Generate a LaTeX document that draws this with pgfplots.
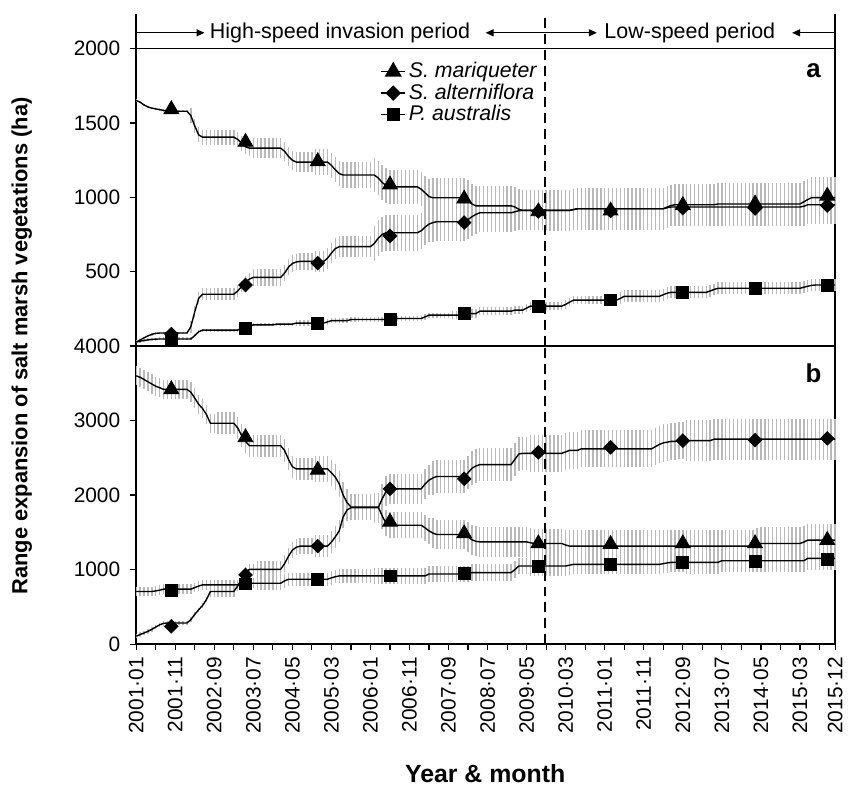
\documentclass[border=0pt]{standalone}
\usepackage{fontspec}
\setmainfont{Liberation Sans}
\usepackage{pgfplots}
\usepackage{pgfplotstable}
\pgfplotsset{compat=1.18}
\usetikzlibrary{arrows.meta}

% panel a: month index (0 = 2001-01), value and error for each species
\pgfplotstableread{
m ma mae al ale pa pae
0 1652 8 27 8 27 10
1 1640 8 40 8 32 10
2 1622 8 55 8 37 10
3 1608 8 68 8 41 10
4 1600 8 78 8 44 10
5 1595 8 85 8 46 10
6 1590 8 87 8 47 10
7 1585 8 87 8 47 10
8 1581 8 87 8 47 10
9 1579 8 87 8 47 10
10 1579 8 87 8 47 10
11 1579 8 87 8 47 10
12 1579 8 87 8 47 10
13 1579 8 87 8 47 10
14 1550 50 130 40 47 10
15 1480 50 230 40 70 10
16 1420 50 320 40 95 10
17 1405 50 348 40 107 10
18 1405 50 348 40 107 10
19 1405 50 348 40 107 10
20 1405 50 348 40 107 10
21 1405 50 348 40 107 10
22 1405 50 348 40 107 10
23 1405 50 348 40 107 10
24 1405 50 348 40 107 10
25 1405 50 348 40 107 10
26 1390 50 370 40 107 10
27 1365 50 400 40 120 10
28 1340 50 430 40 130 10
29 1331 50 450 40 136 10
30 1331 65 461 55 142 10
31 1331 65 461 55 142 10
32 1331 65 461 55 142 10
33 1331 65 461 55 142 10
34 1331 65 461 55 142 10
35 1331 65 461 55 142 10
36 1331 65 461 55 147 10
37 1331 65 461 55 147 10
38 1310 65 490 55 147 10
39 1275 65 530 55 147 10
40 1250 65 555 55 147 10
41 1237 65 565 55 154 18
42 1237 65 569 55 154 18
43 1237 65 569 55 154 18
44 1237 65 569 55 154 18
45 1237 65 569 55 154 18
46 1237 85 569 70 154 18
47 1237 85 569 70 154 18
48 1237 85 569 70 154 18
49 1237 85 590 70 162 18
50 1215 85 625 70 170 18
51 1185 85 655 70 170 18
52 1160 85 668 70 170 18
53 1150 85 668 70 170 18
54 1150 85 668 70 170 18
55 1150 85 668 70 178 18
56 1150 85 668 70 178 18
57 1150 85 668 70 178 18
58 1150 85 668 70 178 18
59 1150 85 668 70 178 18
60 1150 85 668 70 178 18
61 1150 115 690 120 178 18
62 1130 115 725 120 178 18
63 1100 115 750 120 178 18
64 1080 115 762 120 178 18
65 1070 115 762 120 185 18
66 1070 115 762 120 185 18
67 1070 115 762 120 185 18
68 1070 115 762 120 185 18
69 1070 115 762 120 185 18
70 1070 115 762 120 185 18
71 1070 115 762 120 185 18
72 1070 115 762 120 185 18
73 1055 115 775 120 185 18
74 1030 115 800 120 196 18
75 1005 115 820 120 207 18
76 997 135 830 130 207 18
77 997 135 836 130 207 18
78 997 135 836 130 207 18
79 997 135 836 130 207 18
80 997 135 836 130 207 18
81 997 135 836 130 207 28
82 997 135 836 130 207 28
83 997 135 836 130 207 28
84 997 135 836 130 218 28
85 980 135 850 130 218 28
86 955 135 870 130 218 28
87 943 135 885 130 218 28
88 943 135 896 130 234 28
89 943 135 896 130 234 28
90 943 135 896 130 234 28
91 943 135 896 130 234 28
92 943 135 896 130 234 28
93 943 135 896 130 234 28
94 943 135 896 130 234 28
95 943 135 896 130 234 28
96 943 135 896 130 234 28
97 935 135 903 130 241 28
98 920 135 910 130 241 28
99 912 135 912 130 241 28
100 912 135 912 130 255 28
101 912 135 912 130 268 28
102 912 135 912 130 268 28
103 912 135 912 130 268 28
104 912 135 912 130 268 28
105 912 135 912 130 268 28
106 912 140 912 130 268 28
107 912 140 912 130 268 28
108 912 140 912 130 268 28
109 912 140 912 130 268 28
110 912 140 912 130 280 28
111 912 140 912 130 295 28
112 918 140 918 130 308 28
113 923 140 923 130 308 28
114 923 140 923 130 308 28
115 923 140 923 130 308 28
116 923 140 923 130 308 28
117 923 140 923 130 308 28
118 923 140 923 130 308 28
119 923 140 923 130 308 28
120 923 140 923 130 308 28
121 923 140 923 130 308 40
122 923 140 923 130 308 40
123 923 140 923 130 308 40
124 923 140 923 130 320 40
125 923 140 923 130 334 40
126 923 140 923 130 334 40
127 923 140 923 130 334 40
128 923 140 923 130 334 40
129 923 140 923 130 334 40
130 923 140 923 130 334 40
131 923 140 923 130 334 40
132 923 140 923 130 334 40
133 923 140 923 130 334 40
134 923 140 923 130 334 40
135 923 140 923 130 345 40
136 935 140 930 130 355 40
137 945 140 935 130 361 40
138 950 140 935 130 361 40
139 950 140 935 130 361 40
140 950 140 935 130 361 40
141 950 140 935 130 361 40
142 950 140 935 130 361 40
143 950 140 935 130 361 40
144 950 140 935 130 361 40
145 950 140 935 130 361 40
146 950 140 935 130 361 40
147 950 140 935 130 370 40
148 950 140 935 130 380 40
149 955 140 935 130 388 40
150 955 140 935 130 388 40
151 955 140 935 130 388 40
152 955 140 935 130 388 40
153 955 140 935 130 388 40
154 955 140 935 130 388 40
155 955 140 935 130 388 40
156 955 140 935 130 388 40
157 955 140 935 130 388 40
158 955 140 935 130 388 40
159 955 140 935 130 388 40
160 955 140 935 130 388 40
161 955 140 935 130 388 40
162 955 140 935 130 388 40
163 955 140 935 130 388 40
164 955 140 935 130 388 40
165 955 140 935 130 388 40
166 955 140 935 130 388 40
167 955 140 935 130 388 40
168 955 140 935 130 388 40
169 955 140 935 130 388 40
170 955 140 935 130 388 40
171 970 140 940 130 395 40
172 985 140 950 130 402 40
173 998 140 950 130 408 40
174 998 140 950 130 410 40
175 998 140 950 130 410 40
176 998 140 950 130 410 40
177 998 140 950 130 410 40
178 998 140 950 130 410 40
179 998 140 950 130 410 40
}\dataA

% panel b
\pgfplotstableread{
m mb mbe alb albe pb pbe
0 3600 130 107 30 707 65
1 3580 130 130 30 707 65
2 3550 130 150 30 707 65
3 3520 130 173 30 707 65
4 3490 130 200 30 707 65
5 3460 130 230 30 715 65
6 3440 130 260 30 725 65
7 3418 130 280 30 738 65
8 3418 130 284 30 738 65
9 3418 130 284 30 738 65
10 3418 130 284 30 738 65
11 3418 130 284 30 738 65
12 3418 130 284 30 738 65
13 3418 130 284 30 738 65
14 3380 130 330 30 738 65
15 3300 130 400 30 760 65
16 3218 130 462 30 780 65
17 3160 130 520 30 796 65
18 3080 130 600 30 796 65
19 2964 130 707 70 796 65
20 2964 130 707 70 796 65
21 2964 150 707 70 796 65
22 2964 150 707 70 796 65
23 2964 150 707 70 796 65
24 2964 150 707 70 796 65
25 2964 150 707 70 796 65
26 2900 150 780 70 796 65
27 2800 150 880 70 796 65
28 2720 150 960 70 818 65
29 2662 150 1004 70 818 65
30 2662 150 1004 70 818 65
31 2662 150 1004 110 818 90
32 2662 150 1004 110 818 90
33 2662 150 1004 110 818 90
34 2662 150 1004 110 818 90
35 2662 150 1004 110 818 90
36 2662 150 1004 110 818 90
37 2662 150 1004 110 818 90
38 2600 150 1080 110 849 90
39 2480 150 1180 110 871 90
40 2380 150 1262 110 871 90
41 2351 150 1300 110 871 90
42 2351 150 1316 110 871 90
43 2351 150 1316 110 871 90
44 2351 150 1316 110 871 90
45 2351 150 1316 110 871 90
46 2351 175 1316 150 871 90
47 2351 175 1316 150 871 90
48 2351 175 1316 150 871 90
49 2351 175 1316 150 871 90
50 2300 175 1370 150 890 90
51 2240 175 1440 150 905 90
52 2150 175 1520 150 916 90
53 2000 175 1707 150 916 90
54 1900 175 1800 150 916 90
55 1840 175 1831 150 916 90
56 1840 175 1831 150 916 90
57 1840 175 1831 150 916 90
58 1840 175 1831 150 916 90
59 1840 175 1831 150 916 90
60 1840 175 1831 150 916 90
61 1840 175 1831 200 916 110
62 1840 175 1831 200 916 110
63 1720 175 1950 200 916 110
64 1620 175 2050 200 916 110
65 1596 175 2084 200 916 110
66 1596 175 2084 200 916 110
67 1596 175 2084 200 916 110
68 1596 175 2084 200 916 110
69 1596 175 2084 200 916 110
70 1596 175 2084 200 916 110
71 1596 175 2084 200 916 110
72 1596 175 2084 200 916 110
73 1596 175 2084 200 916 110
74 1560 175 2150 200 916 110
75 1520 175 2200 200 942 110
76 1490 200 2230 225 942 110
77 1471 200 2249 225 942 110
78 1471 200 2249 225 942 110
79 1471 200 2249 225 942 110
80 1471 200 2249 225 942 110
81 1471 200 2249 225 942 110
82 1471 200 2249 225 942 110
83 1471 200 2249 225 942 110
84 1471 200 2249 225 942 110
85 1440 200 2300 225 942 110
86 1400 200 2360 225 960 110
87 1380 200 2390 225 960 110
88 1373 200 2409 225 960 110
89 1373 200 2409 225 960 110
90 1373 200 2409 225 960 110
91 1373 200 2409 225 960 110
92 1373 200 2409 225 960 110
93 1373 200 2409 225 960 110
94 1373 200 2409 225 960 110
95 1373 200 2409 225 960 110
96 1373 200 2409 225 960 110
97 1373 200 2480 225 1000 110
98 1373 200 2551 225 1049 110
99 1373 200 2560 225 1049 110
100 1373 200 2560 225 1049 110
101 1360 200 2560 250 1049 130
102 1351 200 2560 250 1049 130
103 1351 200 2560 250 1049 130
104 1351 200 2560 250 1049 130
105 1351 200 2560 250 1049 130
106 1351 200 2560 250 1049 130
107 1351 200 2560 250 1049 130
108 1351 200 2560 250 1049 130
109 1351 200 2560 250 1049 130
110 1330 200 2580 250 1049 130
111 1316 220 2600 250 1060 130
112 1316 220 2600 250 1071 130
113 1316 220 2600 250 1071 130
114 1316 220 2620 250 1071 130
115 1316 220 2620 250 1071 130
116 1316 220 2620 250 1071 130
117 1316 220 2620 250 1071 130
118 1316 220 2620 250 1071 130
119 1316 220 2620 250 1071 130
120 1316 220 2620 250 1071 130
121 1316 220 2620 250 1071 130
122 1316 220 2620 250 1071 130
123 1316 220 2620 250 1071 130
124 1316 220 2620 250 1071 130
125 1316 220 2620 250 1071 130
126 1316 220 2620 250 1071 130
127 1316 220 2620 250 1071 130
128 1316 220 2620 250 1071 130
129 1316 220 2620 250 1071 130
130 1316 220 2620 250 1071 130
131 1316 220 2620 250 1071 130
132 1316 220 2620 250 1071 130
133 1316 220 2650 250 1071 130
134 1316 220 2680 250 1071 130
135 1316 220 2700 250 1080 130
136 1316 220 2710 250 1090 130
137 1316 220 2720 250 1098 130
138 1316 220 2720 250 1098 130
139 1316 220 2730 250 1098 130
140 1316 220 2730 250 1098 130
141 1316 220 2730 275 1098 150
142 1316 220 2730 275 1098 150
143 1316 220 2730 275 1098 150
144 1316 220 2730 275 1098 150
145 1316 220 2730 275 1098 150
146 1316 220 2730 275 1098 150
147 1316 220 2730 275 1098 150
148 1316 220 2750 275 1098 150
149 1316 220 2750 275 1098 150
150 1316 220 2750 275 1120 150
151 1316 220 2750 275 1120 150
152 1316 220 2750 275 1120 150
153 1316 220 2750 275 1120 150
154 1316 220 2750 275 1120 150
155 1316 220 2750 275 1120 150
156 1316 220 2750 275 1120 150
157 1316 220 2750 275 1120 150
158 1316 220 2750 275 1120 150
159 1335 220 2750 275 1120 150
160 1351 220 2750 275 1120 150
161 1351 220 2750 275 1120 150
162 1351 220 2750 275 1120 150
163 1351 220 2750 275 1120 150
164 1351 220 2750 275 1120 150
165 1351 220 2750 275 1120 150
166 1351 220 2750 275 1120 150
167 1351 220 2750 275 1120 150
168 1351 220 2750 275 1120 150
169 1351 220 2750 275 1120 150
170 1351 220 2750 275 1120 150
171 1370 220 2750 275 1120 150
172 1396 220 2750 275 1151 150
173 1396 220 2750 275 1151 150
174 1396 220 2750 275 1151 150
175 1396 220 2750 275 1151 150
176 1396 220 2750 275 1151 150
177 1396 220 2750 275 1151 150
178 1396 220 2750 275 1151 150
179 1396 220 2750 275 1151 150
}\dataB

% symbol positions
\pgfplotstableread{
m ma al pa
9 1592 80 49
28 1372 410 120
46.5 1242 557 154
65 1085 740 178
84 990 830 221
103 905 905 265
121.5 910 908 310
140 947 928 361
158.5 957 925 388
177 1010 945 406
}\markA
\pgfplotstableread{
m mb alb pb
9 3418 240 720
28 2773 929 809
46.5 2338 1316 871
65 1640 2084 916
84 1484 2218 951
103 1351 2573 1049
121.5 1342 2640 1071
140 1351 2729 1098
158.5 1351 2738 1107
177 1396 2760 1142
}\markB

\pgfplotsset{
  panel/.style={
    scale only axis, width=351.5pt,
    xmin=0, xmax=179, clip=false,
    axis line style={line width=0.75pt},
    tick style={line width=0.6pt, black},
    tick align=outside, tick pos=left,
    major tick length=3pt, minor tick length=3pt,
    ticklabel style={font=\fontsize{10.5}{12}\selectfont},
    yticklabel style={xshift=-1.5pt},
    /pgf/number format/assume math mode=true,
    /pgf/number format/1000 sep={},
    legend image code/.code={\draw[mark repeat=2,mark phase=2,#1] plot coordinates {(0pt,0pt)(6pt,0pt)(12pt,0pt)};},
  },
  ebar/.style={forget plot, draw=none, mark=none,
    error bars/.cd, y dir=both, y explicit, error mark=none,
    error bar style={draw=gray!55, line width=0.7pt, solid}},
  ln/.style={forget plot, black, line width=0.7pt, mark=none},
  tri/.style={forget plot, only marks, black, mark=triangle*, mark size=4.3pt},
  dia/.style={forget plot, only marks, black, mark=square*, mark size=2.4pt, mark options={rotate=45}},
  sqr/.style={forget plot, only marks, black, mark=square*, mark size=3pt},
}

\begin{document}
\begin{tikzpicture}
\path[use as bounding box] (-68.5pt,-72pt) rectangle (358.5pt,324pt);

% panel b (bottom)
\begin{axis}[panel, at={(0pt,0pt)}, anchor=south west, height=150pt,
  ymin=0, ymax=4000, ytick={0,1000,2000,3000,4000},
  xtick={0,10,...,170,179},
  xticklabels={2001·01,2001·11,2002·09,2003·07,2004·05,2005·03,2006·01,2006·11,2007·09,2008·07,2009·05,2010·03,2011·01,2011·11,2012·09,2013·07,2014·05,2015·03,2015·12},
  minor xtick={5,15,...,175},
  xticklabel style={rotate=90, anchor=east},
]
\addplot[ebar] table[x=m, y=mb, y error=mbe]{\dataB};
\addplot[ebar] table[x=m, y=alb, y error=albe]{\dataB};
\addplot[ebar] table[x=m, y=pb, y error=pbe]{\dataB};
\addplot[ln] table[x=m, y=mb]{\dataB};
\addplot[ln] table[x=m, y=alb]{\dataB};
\addplot[ln] table[x=m, y=pb]{\dataB};
\addplot[tri] table[x=m, y=mb]{\markB};
\addplot[dia] table[x=m, y=alb]{\markB};
\addplot[sqr] table[x=m, y=pb]{\markB};
\draw[line width=0.7pt, dash pattern=on 5pt off 3pt] (axis cs:104.7,0) -- (axis cs:104.7,4000);
\node[font=\bfseries\fontsize{13}{13}\selectfont] at (axis cs:173.5,3640) {b};
\end{axis}

% panel a (top); its 0 coincides with the 4000 of panel b
\begin{axis}[panel, at={(0pt,150pt)}, anchor=south west, height=149.5pt,
  ymin=0, ymax=2000, ytick={0,500,1000,1500,2000},
  yticklabels={,500,1000,1500,2000},
  xtick=\empty,
  legend style={at={(axis cs:62.5,1930)}, anchor=north west, draw=none, fill=none,
    font=\itshape\fontsize{10.7}{12}\selectfont, inner sep=0pt, row sep=-1.5pt,
    nodes={inner sep=1.5pt}},
  legend cell align=left,
]
\addplot[ebar] table[x=m, y=ma, y error=mae]{\dataA};
\addplot[ebar] table[x=m, y=al, y error=ale]{\dataA};
\addplot[ebar] table[x=m, y=pa, y error=pae]{\dataA};
\addplot[ln] table[x=m, y=ma]{\dataA};
\addplot[ln] table[x=m, y=al]{\dataA};
\addplot[ln] table[x=m, y=pa]{\dataA};
\addplot[tri] table[x=m, y=ma]{\markA};
\addplot[dia] table[x=m, y=al]{\markA};
\addplot[sqr] table[x=m, y=pa]{\markA};
\addlegendimage{black, line width=0.7pt, mark=triangle*, mark size=4.3pt}
\addlegendentry{S. mariqueter}
\addlegendimage{black, line width=0.7pt, mark=square*, mark size=2.4pt, mark options={rotate=45}}
\addlegendentry{S. alterniflora}
\addlegendimage{black, line width=0.7pt, mark=square*, mark size=3pt}
\addlegendentry{P. australis}
\draw[line width=0.7pt, dash pattern=on 5pt off 3pt] (axis cs:104.7,0) -- (axis cs:104.7,2234);
\draw[line width=0.75pt] (axis cs:0,2000) -- (axis cs:0,2234);
\draw[line width=0.75pt] (axis cs:179,2000) -- (axis cs:179,2234);
\draw[line width=0.6pt, -{Triangle[length=4pt,width=3.5pt]}] (axis cs:0,2107) -- (axis cs:17.5,2107);
\draw[line width=0.6pt, {Triangle[length=4pt,width=3.5pt]}-{Triangle[length=4pt,width=3.5pt]}] (axis cs:89.5,2107) -- (axis cs:118,2107);
\draw[line width=0.6pt, -{Triangle[length=4pt,width=3.5pt]}] (axis cs:179,2107) -- (axis cs:168,2107);
\node[font=\fontsize{10.8}{12}\selectfont] at (axis cs:52.2,2107) {High-speed invasion period};
\node[font=\fontsize{10.8}{12}\selectfont] at (axis cs:141.8,2107) {Low-speed period};
\node[font=\bfseries\fontsize{13}{13}\selectfont] at (axis cs:173.5,1850) {a};
\end{axis}

\node[rotate=90, font=\bfseries\fontsize{11}{13}\selectfont] at (-57.5pt,150pt) {Range expansion of salt marsh vegetations (ha)};
\node[font=\bfseries\fontsize{12.5}{14}\selectfont] at (175.5pt,-65pt) {Year \& month};
\end{tikzpicture}
\end{document}
